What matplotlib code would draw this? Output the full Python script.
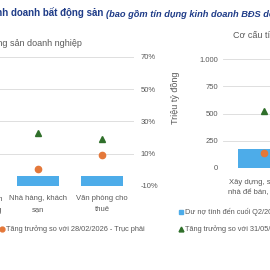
import matplotlib
matplotlib.use("Agg")
import matplotlib.pyplot as plt
from matplotlib.lines import Line2D
import numpy as np

plt.rcParams['font.family'] = ['Liberation Sans Narrow', 'Liberation Sans', 'DejaVu Sans']

# ===== DATA =====
left_cats = ["Khu du lịch, sinh\nthái nghỉ dưỡng", "Nhà hàng, khách\nsạn", "Văn phòng cho\nthuê"]
left_debt = [120, 78, 78]                 # left axis (off-screen)
left_growth_may = [15.0, 22.8, 19.1]      # % (right axis), triangles
left_growth_feb = [4.0, 0.5, 9.2]         # % (right axis), circles
left_pct_ticks = [-10, 10, 30, 50, 70]

right_cats = ["Xây dựng, sửa chữa\nnhà để bán, cho thuê", "Kinh doanh\nbất động sản"]
right_debt = [174, 600]                   # triệu tỷ đồng
right_growth_may = [20.9, 15.0]
right_growth_feb = [5.5, 3.0]
right_ticks = [0, 250, 500, 750, 1000]
right_tick_labels = ["0", "250", "500", "750", "1.000"]

BLUE = "#4DACE9"
ORANGE = "#E4783A"
GREEN = "#2F6F2A"
GRID = "#D9D9D9"
TXT = "#595959"
TITLE = "#1F3C88"
W = H = 270


def fx(px):
    return px / W


def fy(py):
    return 1 - py / H


def clean(a):
    for s in a.spines.values():
        s.set_visible(False)


fig = plt.figure(figsize=(2.7, 2.7), dpi=100)

# ---- left chart ----
ax = fig.add_axes([fx(-58), fy(186), fx(192), 129 / H])
x = np.arange(len(left_cats))
ax.bar(x, left_debt, width=0.66, color=BLUE, zorder=2)
ax.set_xlim(-0.5, len(left_cats) - 0.5)
ax.set_ylim(0, 1000)
ax.set_yticks([])
ax.set_xticks(x, left_cats)
ax.tick_params(axis='x', length=0, pad=6.5, labelsize=5.5, labelcolor=TXT)
for t in ax.get_xticklabels():
    t.set_linespacing(1.75)
clean(ax)
ax2 = ax.twinx()
ax2.set_ylim(-10, 70)
ax2.set_yticks(left_pct_ticks, [f"{v}%" for v in left_pct_ticks])
ax2.tick_params(axis='y', length=0, pad=4.5, labelsize=5.5, labelcolor=TXT)
ax2.grid(axis='y', color=GRID, lw=0.6, zorder=0)
ax2.set_axisbelow(True)
ax2.plot(x, left_growth_may, marker='^', ls='none', color=GREEN, ms=5, zorder=3)
ax2.plot(x, left_growth_feb, marker='o', ls='none', color=ORANGE, ms=4.5, zorder=3)
clean(ax2)

# ---- right chart ----
axr = fig.add_axes([fx(223), fy(168), fx(164), 109 / H])
xr = np.arange(len(right_cats))
axr.bar(xr, right_debt, width=0.63, color=BLUE, zorder=2)
axr.set_xlim(-0.5, len(right_cats) - 0.5)
axr.set_ylim(0, 1000)
axr.set_yticks(right_ticks, right_tick_labels)
axr.grid(axis='y', color=GRID, lw=0.6, zorder=0)
axr.set_axisbelow(True)
axr.set_xticks(xr, right_cats)
axr.tick_params(axis='x', length=0, pad=7.5, labelsize=5.5, labelcolor=TXT)
axr.tick_params(axis='y', length=0, pad=3.5, labelsize=5.5, labelcolor=TXT)
for t in axr.get_xticklabels():
    t.set_linespacing(1.6)
clean(axr)
axr2 = axr.twinx()
axr2.set_ylim(0, 40)
axr2.set_yticks([])
axr2.plot(xr, right_growth_may, marker='^', ls='none', color=GREEN, ms=5, zorder=3)
axr2.plot(xr, right_growth_feb, marker='o', ls='none', color=ORANGE, ms=4.5, zorder=3)
clean(axr2)

fig.text(fx(175), fy(98), "Triệu tỷ đồng", rotation=90, ha='center', va='center',
         size=6.5, color=TXT)

# ---- titles ----
fig.text(fx(103), fy(17), "Dư nợ tín dụng kinh doanh bất động sản", ha='right',
         va='baseline', weight='bold', color=TITLE, size=7)
fig.text(fx(106), fy(17), "(bao gồm tín dụng kinh doanh BĐS doanh nghiệp)", ha='left',
         va='baseline', weight='bold', style='italic', color=TITLE, size=6.7)
fig.text(fx(82), fy(43), "Cơ cấu tín dụng bất động sản doanh nghiệp", ha='right',
         va='center', size=6.5, color=TXT)
fig.text(fx(233), fy(35), "Cơ cấu tín dụng bất động sản nhà ở", ha='left',
         va='center', size=6.5, color=TXT)

# ---- legends ----
fig.add_artist(Line2D([fx(2)], [fy(229)], marker='o', color=ORANGE, ms=3.5,
                      transform=fig.transFigure))
fig.text(fx(6), fy(229), "Tăng trưởng so với 28/02/2026 - Trục phải", va='center',
         size=5.3, color=TXT)
fig.add_artist(Line2D([fx(181)], [fy(212)], marker='s', color=BLUE, ms=3.5,
                      transform=fig.transFigure))
fig.text(fx(185), fy(212), "Dư nợ tính đến cuối Q2/2026", va='center', size=5.3, color=TXT)
fig.add_artist(Line2D([fx(181)], [fy(229)], marker='^', color=GREEN, ms=3.5,
                      transform=fig.transFigure))
fig.text(fx(185), fy(229), "Tăng trưởng so với 31/05/2026", va='center', size=5.3, color=TXT)

fig.savefig("out.png", dpi=100)
